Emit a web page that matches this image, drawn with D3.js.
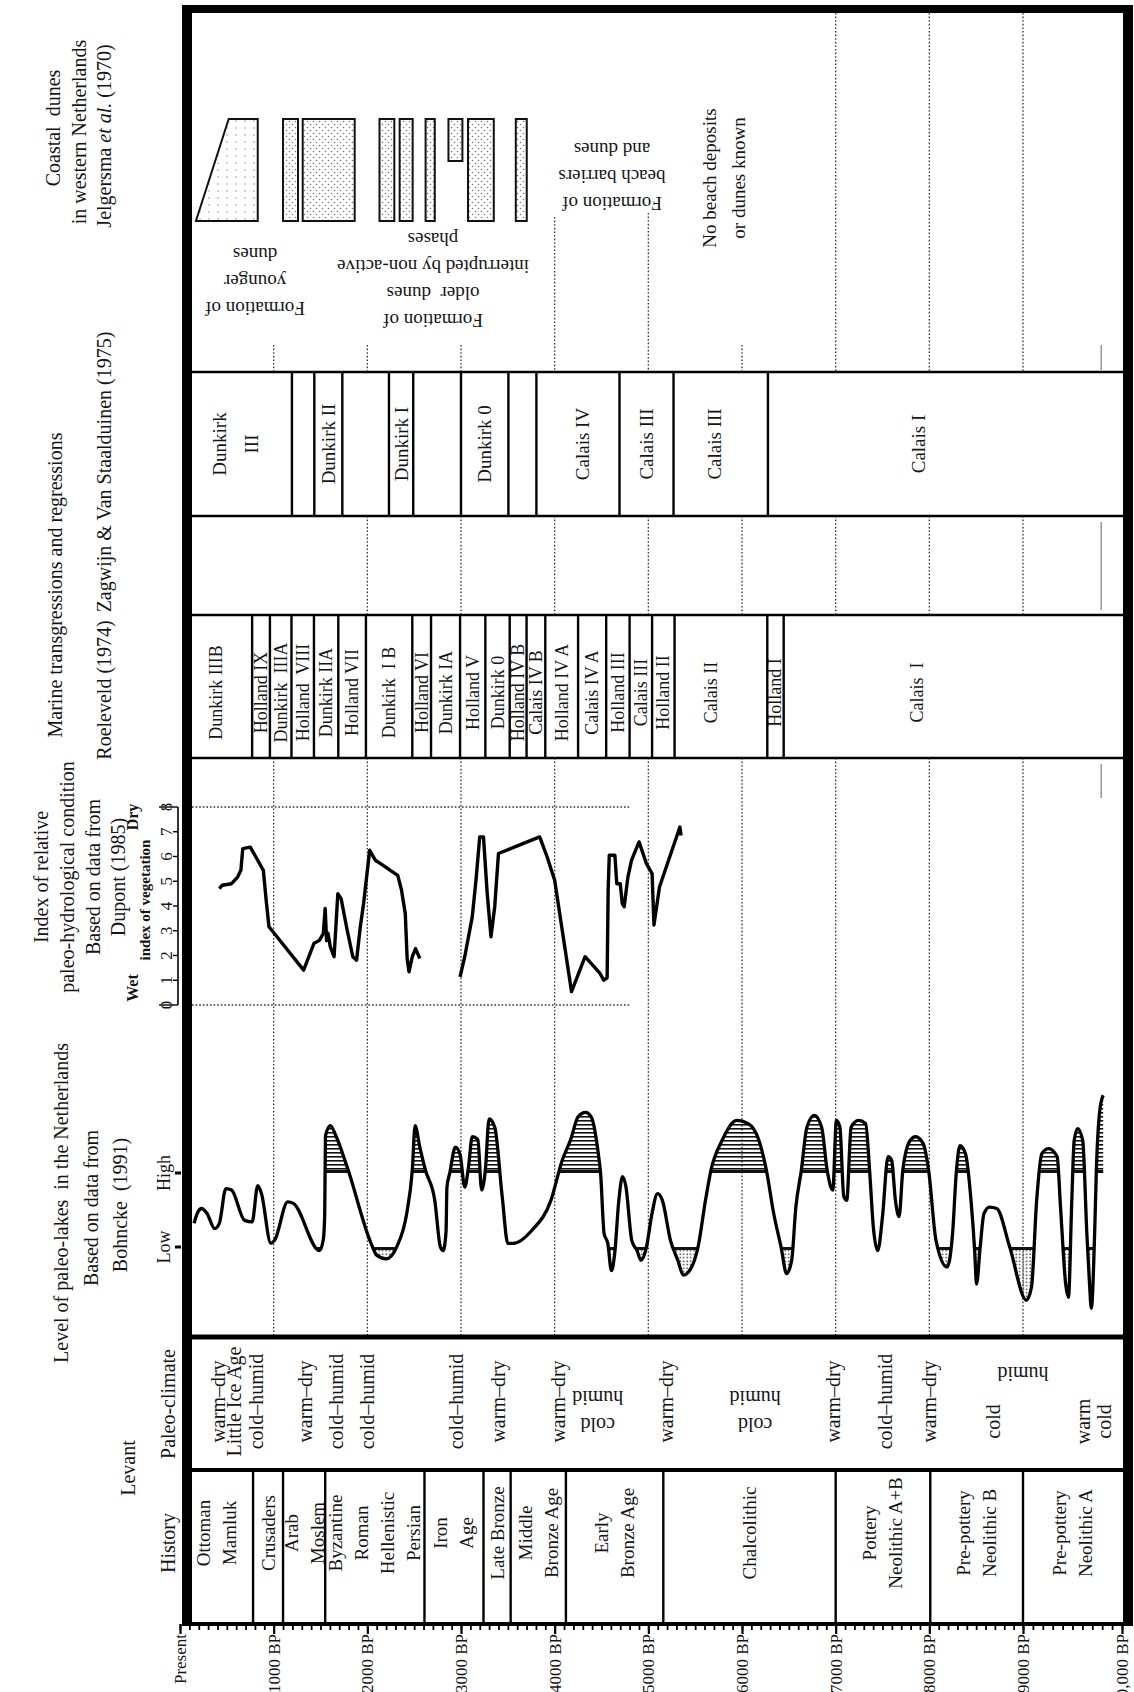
<!DOCTYPE html>
<html>
<head>
<meta charset="utf-8">
<script src="https://cdn.jsdelivr.net/npm/d3@7"></script>
<style>
  body { margin: 0; background: #fff; }
  svg text { font-family: "Liberation Serif", "Times New Roman", serif; fill: #151515; white-space: pre; }
</style>
</head>
<body>
<svg id="chart" width="1134" height="1692"></svg>
<script>
// ---- time axis ----
const axisYears = [0, 1000, 2000, 3000, 4000, 5000, 6000, 7000, 8000, 9000, 10000];
const axisLabels = ['Present', '1000 BP', '2000 BP', '3000 BP', '4000 BP', '5000 BP', '6000 BP', '7000 BP', '8000 BP', '9000 BP', '10,000 BP'];

// ---- history of the Levant ----
const historyBounds = [0, 780, 1100, 1550, 2610, 3240, 3530, 4120, 5160, 7000, 8010, 9000, 10000];
const historyNames = [
  ['Ottoman', 'Mamluk'], ['Crusaders'], ['Arab', 'Moslem'],
  ['Byzantine', 'Roman', 'Hellenistic', 'Persian'], ['Iron', 'Age'], ['Late Bronze'],
  ['Middle', 'Bronze Age'], ['Early', 'Bronze Age'], ['Chalcolithic'],
  ['Pottery', 'Neolithic A+B'], ['Pre-pottery', 'Neolithic B'], ['Pre-pottery', 'Neolithic A']
];

// ---- paleo-climate ----
const climateYears = [404, 580, 816, 1330, 1670, 2000, 2950, 3390, 4040, 5190, 6970, 7530, 8000];
const climateNames = ['warm–dry', 'Little Ice Age', 'cold–humid', 'warm–dry', 'cold–humid', 'cold–humid',
  'cold–humid', 'warm–dry', 'warm–dry', 'warm–dry', 'warm–dry', 'cold–humid', 'warm–dry'];
const climateLowYears = [8680, 9610, 9815];
const climateLowNames = ['cold', 'warm', 'cold'];
const climateFlipYears = [4460, 6140, 9000];
const climateFlipNames = [['cold', 'humid'], ['cold', 'humid'], ['humid']];

// ---- level of paleo-lakes, Bohncke (1991): [years BP, level] 0 = Low, 1 = High ----
const lakeLevel = [
  [150, 0.32], [190, 0.47], [230, 0.52], [290, 0.45], [370, 0.25], [420, 0.32], [490, 0.79], [550, 0.77],
  [690, 0.36], [770, 0.34], [830, 0.83], [870, 0.72], [970, 0.05], [1010, 0.09], [1150, 0.61], [1210, 0.59],
  [1490, -0.05], [1530, 0.1], [1545, 0.45], [1553, 1.5], [1605, 1.64], [1665, 1.5], [1785, 1.08],
  [2040, 0.05], [2100, -0.11], [2200, -0.16], [2320, 0.02], [2420, 0.45], [2480, 1.04], [2510, 1.64],
  [2560, 1.35], [2620, 1.04], [2720, 0.63], [2780, 0], [2810, -0.05], [2840, 0.2], [2850, 0.81], [2880, 1.0],
  [2940, 1.35], [2990, 1.25], [3040, 0.81], [3080, 1.08], [3120, 1.49], [3180, 1.45], [3220, 0.77],
  [3260, 1.04], [3300, 1.73], [3360, 1.62], [3440, 0.68], [3500, 0.05], [3560, 0.05], [3760, 0.23],
  [3960, 0.63], [4080, 1.17], [4170, 1.45], [4250, 1.76], [4330, 1.82], [4390, 1.76], [4470, 1.22],
  [4490, 1.0], [4528, 0.18], [4567, 0.05], [4606, -0.32], [4640, -0.1], [4685, 0.63], [4724, 0.95],
  [4760, 0.82], [4823, 0.09], [4880, -0.05], [4921, -0.18], [4980, 0], [5039, 0.45], [5098, 0.72],
  [5150, 0.63], [5236, 0.09], [5315, -0.18], [5374, -0.38], [5450, -0.3], [5531, 0], [5610, 0.63],
  [5669, 1.04], [5787, 1.44], [5945, 1.71], [6063, 1.67], [6181, 1.44], [6260, 1.04], [6339, 0.45],
  [6417, 0], [6476, -0.36], [6530, -0.18], [6575, 0.54], [6634, 1.04], [6693, 1.62], [6772, 1.78],
  [6850, 1.62], [6909, 1.04], [6969, 0.77], [7008, 1.71], [7045, 1.62], [7087, 0.68], [7118, 0.63],
  [7165, 1.62], [7244, 1.71], [7320, 1.67], [7362, 1.04], [7402, 0.27], [7449, -0.05], [7500, 0.41],
  [7559, 1.22], [7598, 1.17], [7638, 0.63], [7677, 0.41], [7717, 1.04], [7795, 1.44], [7854, 1.49],
  [7933, 1.4], [7992, 1.04], [8071, 0.09], [8189, -0.27], [8248, 0.18], [8287, 0.99], [8327, 1.37],
  [8386, 1.26], [8445, 0.63], [8484, -0.05], [8504, -0.5], [8543, 0], [8583, 0.45], [8642, 0.54],
  [8720, 0.52], [8858, 0], [9034, -0.72], [9086, -0.54], [9138, 0.63], [9190, 1.26], [9259, 1.33],
  [9345, 1.22], [9379, 0.54], [9431, -0.5], [9459, -0.68], [9493, 0.63], [9517, 1.44], [9552, 1.6],
  [9603, 1.44], [9645, 0.18], [9672, -0.5], [9690, -0.83], [9724, 0.2], [9741, 1.04], [9776, 1.85],
  [9810, 2.05]
];

// ---- index of vegetation, Dupont (1985): [years BP, index 0 wet .. 8 dry] ----
const dupontRecent = [
  [420, 4.7], [450, 4.84], [550, 4.9], [615, 5.17], [650, 5.44], [670, 6.32], [750, 6.38], [810, 5.98],
  [890, 5.44], [920, 4.23], [950, 3.16], [1320, 1.41], [1430, 2.49], [1490, 2.62], [1530, 2.89],
  [1550, 3.9], [1565, 2.6], [1580, 2.9], [1605, 2.35], [1645, 1.95], [1685, 4.5], [1720, 4.3],
  [1785, 3.02], [1845, 1.95], [1885, 1.81], [1925, 3.16], [1960, 4.1], [2025, 6.25], [2085, 5.85],
  [2165, 5.65], [2245, 5.44], [2325, 5.24], [2365, 4.64], [2405, 3.7], [2425, 1.88], [2445, 1.34],
  [2480, 1.95], [2515, 2.28], [2560, 1.88]
];
const dupontOlder = [
  [2990, 1.14], [3040, 1.95], [3120, 3.56], [3160, 5.04], [3200, 6.79], [3240, 6.79], [3280, 4.5],
  [3320, 2.76], [3360, 3.97], [3400, 6.12], [3840, 6.79], [3920, 5.98], [4000, 5.04], [4180, 0.54],
  [4325, 1.95], [4484, 1.28], [4524, 1.0], [4560, 1.1], [4571, 4.64], [4583, 6.05], [4643, 6.05],
  [4663, 4.9], [4700, 4.9], [4722, 4.1], [4742, 3.97], [4782, 5.17], [4821, 5.85], [4901, 6.59],
  [4980, 5.71], [5040, 5.31], [5060, 3.23], [5119, 4.77], [5337, 7.19], [5349, 6.85]
];
const dupontTicks = [0, 1, 2, 3, 4, 5, 6, 7, 8];

// ---- marine transgressions, Roeleveld (1974) ----
const roeleveldBounds = [0, 770, 960, 1190, 1430, 1690, 1985, 2480, 2680, 2990, 3260, 3520, 3700, 3900,
  4250, 4550, 4800, 5040, 5280, 6270, 6445, 10000];
const roeleveldNames = ['Dunkirk IIIB', 'Holland IX', 'Dunkirk  IIIA', 'Holland  VIII', 'Dunkirk IIA',
  'Holland VII', 'Dunkirk  I B', 'Holland VI', 'Dunkirk IA', 'Holland V', 'Dunkirk 0', 'Holland IV B',
  'Calais IV B', 'Holland IV A', 'Calais IV A', 'Holland III', 'Calais III', 'Holland II', 'Calais II',
  'Holland I', 'Calais  I'];
const roeleveldLabelYears = { 'Calais II': 5669, 'Calais  I': 7870 };

// ---- Zagwijn & Van Staalduinen (1975) ----
const zagwijnBounds = [0, 1195, 1434, 1733, 2231, 2490, 3000, 3506, 3805, 4692, 5269, 6277, 10000];
const zagwijnNames = [['Dunkirk', 'III'], [], ['Dunkirk II'], [], ['Dunkirk I'], [], ['Dunkirk 0'], [],
  ['Calais IV'], ['Calais III'], ['Calais III'], ['Calais I']];
const zagwijnLabelYears = [null, null, null, null, null, null, null, null, 4300, null, 5711, 7880];

// ---- coastal dunes, Jelgersma et al. (1970) ----
const youngerDunes = [170, 520, 830];
const olderDuneBeds = [[1100, 1260], [1310, 1865], [2130, 2288], [2345, 2484], [2622, 2720], [3075, 3350], [3585, 3702]];
const shortDuneBed = [2866, 3015];

const gridYears = [1000, 2000, 3000, 4000, 5000, 6000, 7000, 8000, 9000];

// ---------------------------------------------------------------
const svg = d3.select('#chart');
const L = {
  top: 5, duneBot: 345, staalTop: 372, staalBot: 516, roelTop: 615, roelBot: 758,
  lakeBot: 1337, paleoBot: 1470, axisY: 1624, left: 192, right: 1123
};
const x = d3.scaleLinear().domain([0, 9000, 10000]).range([180, 1023, 1122]);
const yLake = d3.scaleLinear().domain([0, 1]).range([1247, 1173]);
const yDry = d3.scaleLinear().domain([0, 8]).range([1005, 807]);

const defs = svg.append('defs');
const hatch = defs.append('pattern').attr('id', 'hatch').attr('patternUnits', 'userSpaceOnUse')
  .attr('width', 8).attr('height', 4);
hatch.append('rect').attr('width', 8).attr('height', 1.6).attr('fill', '#111');
const dots = defs.append('pattern').attr('id', 'dots').attr('patternUnits', 'userSpaceOnUse')
  .attr('width', 3.5).attr('height', 3.5);
dots.append('circle').attr('cx', 1.2).attr('cy', 1.2).attr('r', 0.85).attr('fill', '#222');
const sand = defs.append('pattern').attr('id', 'sand').attr('patternUnits', 'userSpaceOnUse')
  .attr('width', 6).attr('height', 6);
sand.append('circle').attr('cx', 1.5).attr('cy', 1.5).attr('r', 0.8).attr('fill', '#777');
sand.append('circle').attr('cx', 4.5).attr('cy', 4.5).attr('r', 0.8).attr('fill', '#777');
const sandLight = defs.append('pattern').attr('id', 'sandLight').attr('patternUnits', 'userSpaceOnUse')
  .attr('width', 9).attr('height', 7);
sandLight.append('circle').attr('cx', 2).attr('cy', 2).attr('r', 0.8).attr('fill', '#999');

function clip(id, y0, y1) {
  defs.append('clipPath').attr('id', id).append('rect')
    .attr('x', 0).attr('y', y0).attr('width', 1134).attr('height', y1 - y0);
}
clip('clipHigh', 0, yLake(1));
clip('clipLow', yLake(0), 1692);
clip('bandHigh', yLake(1) - 3, yLake(1));
clip('bandLow', yLake(0), yLake(0) + 3);

// rotated (reading bottom to top) text, lines stacked to the right
function vText(g, cx, cy, lines, size, lh, weight) {
  const n = lines.length;
  lines.forEach((s, i) => {
    g.append('text')
      .attr('transform', `translate(${cx + (i - (n - 1) / 2) * lh},${cy}) rotate(-90)`)
      .attr('text-anchor', 'middle').attr('dominant-baseline', 'central')
      .style('font-size', size + 'px').style('font-weight', weight || null)
      .text(s);
  });
}
// upside-down text, first line lowest
function flipText(g, cx, cy, lines, size, lh) {
  const n = lines.length;
  lines.forEach((s, i) => {
    g.append('text')
      .attr('transform', `translate(${cx},${cy + ((n - 1) / 2 - i) * lh}) rotate(180)`)
      .attr('text-anchor', 'middle').attr('dominant-baseline', 'central')
      .style('font-size', size + 'px').text(s);
  });
}

// ---- dotted time grid ----
const grid = svg.append('g').attr('stroke', '#333').attr('stroke-width', 1.3).attr('stroke-dasharray', '1.6,2');
grid.selectAll('line.g1').data(gridYears).join('line').attr('class', 'g1')
  .attr('x1', d => x(d)).attr('x2', d => x(d)).attr('y1', L.roelBot).attr('y2', L.lakeBot);
grid.selectAll('line.g2').data(gridYears.filter(d => d >= 2000)).join('line').attr('class', 'g2')
  .attr('x1', d => x(d)).attr('x2', d => x(d)).attr('y1', L.staalBot).attr('y2', L.roelTop);
const duneGridStart = d => d >= 7000 ? L.top + 8 : d === 4000 ? 217 : d === 5000 ? 213 : L.duneBot;
grid.selectAll('line.g3').data(gridYears).join('line').attr('class', 'g3')
  .attr('x1', d => x(d)).attr('x2', d => x(d)).attr('y1', duneGridStart).attr('y2', L.staalTop);
grid.selectAll('line.g4').data([0, 8]).join('line').attr('class', 'g4')
  .attr('x1', L.left).attr('x2', x(4800)).attr('y1', d => yDry(d)).attr('y2', d => yDry(d));

// stray grey marks near 9800 BP
svg.append('g').attr('stroke', '#999').attr('stroke-width', 1.5)
  .selectAll('line').data([[345, 370], [522, 610], [764, 798]]).join('line')
  .attr('x1', x(9790)).attr('x2', x(9790)).attr('y1', d => d[0]).attr('y2', d => d[1]);

// ---- lake levels ----
const lake = svg.append('g');
const lakeLine = d3.line().x(d => x(d[0])).y(d => yLake(d[1])).curve(d3.curveMonotoneX);
const highArea = d3.area().x(d => x(d[0])).y0(yLake(1)).y1(d => yLake(d[1])).curve(d3.curveMonotoneX);
const lowArea = d3.area().x(d => x(d[0])).y0(yLake(0)).y1(d => yLake(d[1])).curve(d3.curveMonotoneX);
lake.append('path').datum(lakeLevel).attr('d', highArea).attr('fill', 'url(#hatch)').attr('clip-path', 'url(#clipHigh)');
lake.append('path').datum(lakeLevel).attr('d', highArea).attr('fill', '#111').attr('clip-path', 'url(#bandHigh)');
lake.append('path').datum(lakeLevel).attr('d', lowArea).attr('fill', 'url(#dots)').attr('clip-path', 'url(#clipLow)');
lake.append('path').datum(lakeLevel).attr('d', lowArea).attr('fill', '#111').attr('clip-path', 'url(#bandLow)');
lake.append('path').datum(lakeLevel).attr('d', lakeLine).attr('fill', 'none')
  .attr('stroke', '#000').attr('stroke-width', 3.3).attr('stroke-linejoin', 'round');

// ---- Dupont index ----
const dryLine = d3.line().x(d => x(d[0])).y(d => yDry(d[1]));
svg.append('g').selectAll('path').data([dupontRecent, dupontOlder]).join('path')
  .attr('d', dryLine).attr('fill', 'none').attr('stroke', '#000').attr('stroke-width', 3.4)
  .attr('stroke-linejoin', 'round');

// index scale
const dryAxis = svg.append('g');
dryAxis.append('line').attr('x1', 178).attr('x2', 178).attr('y1', yDry(0)).attr('y2', yDry(8))
  .attr('stroke', '#000').attr('stroke-width', 1.6);
dryAxis.selectAll('line.t').data(dupontTicks).join('line').attr('class', 't')
  .attr('x1', d => (d === 0 || d === 8) ? 159 : 173).attr('x2', 178)
  .attr('y1', d => yDry(d)).attr('y2', d => yDry(d)).attr('stroke', '#000').attr('stroke-width', 1.4);
dryAxis.selectAll('text').data(dupontTicks).join('text')
  .attr('transform', d => `translate(166,${yDry(d)}) rotate(-90)`)
  .attr('text-anchor', 'middle').attr('dominant-baseline', 'central').style('font-size', '17px')
  .text(d => d);

// ---- boxes ----
function boxColumn(bounds, names, labelAt, y0, y1, ty, size, lh) {
  const g = svg.append('g');
  g.selectAll('line').data(bounds.slice(1, -1)).join('line')
    .attr('x1', d => x(d)).attr('x2', d => x(d)).attr('y1', y0).attr('y2', y1)
    .attr('stroke', '#000').attr('stroke-width', 2.4);
  names.forEach((lines, i) => {
    const arr = Array.isArray(lines) ? lines : [lines];
    const at = labelAt(lines, i);
    const year = at != null ? at : (bounds[i] + bounds[i + 1]) / 2;
    if (arr.length) vText(g, x(year), ty, arr, size, lh);
  });
}
boxColumn(roeleveldBounds, roeleveldNames, s => roeleveldLabelYears[s],
  L.roelTop, L.roelBot, (L.roelTop + L.roelBot) / 2 + 6, 18, 20);
boxColumn(zagwijnBounds, zagwijnNames, (s, i) => zagwijnLabelYears[i],
  L.staalTop, L.staalBot, (L.staalTop + L.staalBot) / 2, 19, 32);
boxColumn(historyBounds, historyNames, () => null, L.paleoBot, L.axisY, 1533, 19, 26);

// ---- paleo-climate ----
const clim = svg.append('g');
const paleoMid = (L.lakeBot + L.paleoBot) / 2 - 2;
climateYears.forEach((d, i) => vText(clim, x(d), paleoMid, [climateNames[i]], 20, 0));
climateLowYears.forEach((d, i) => vText(clim, x(d), paleoMid + 20, [climateLowNames[i]], 20, 0));
climateFlipYears.forEach((d, i) => {
  const lines = climateFlipNames[i];
  flipText(clim, x(d), lines.length > 1 ? paleoMid + 10 : paleoMid - 28, lines, 20, 27);
});

// ---- coastal dunes ----
const dunes = svg.append('g');
const dTop = 119, dBot = 221;
dunes.append('path')
  .attr('d', `M${x(youngerDunes[0])},${dBot} L${x(youngerDunes[1])},${dTop} L${x(youngerDunes[2])},${dTop} L${x(youngerDunes[2])},${dBot} Z`)
  .attr('fill', 'url(#sandLight)').attr('stroke', '#111').attr('stroke-width', 2);
dunes.selectAll('rect.bed').data(olderDuneBeds).join('rect').attr('class', 'bed')
  .attr('x', d => x(d[0])).attr('width', d => x(d[1]) - x(d[0]))
  .attr('y', dTop).attr('height', dBot - dTop)
  .attr('fill', 'url(#sand)').attr('stroke', '#111').attr('stroke-width', 2);
dunes.append('rect').attr('x', x(shortDuneBed[0])).attr('width', x(shortDuneBed[1]) - x(shortDuneBed[0]))
  .attr('y', dTop).attr('height', 42).attr('fill', 'url(#sand)').attr('stroke', '#111').attr('stroke-width', 2);
flipText(dunes, 255, 281, ['Formation of', 'younger', 'dunes'], 19, 27);
flipText(dunes, 433, 280, ['Formation of', 'older  dunes', 'interrupted by non-active', 'phases'], 19, 27);
flipText(dunes, 612, 176, ['Formation of', 'beach barriers', 'and dunes'], 19, 27);
vText(dunes, x(5810), 178, ['No beach deposits', 'or dunes known'], 19, 29);

// ---- column rules and frame ----
const rules = svg.append('g').attr('stroke', '#000');
[[L.staalTop, 2.6], [L.staalBot, 2.6], [L.roelTop, 2.6], [L.roelBot, 2.6], [L.lakeBot, 5], [L.paleoBot, 4]]
  .forEach(([y, w]) => rules.append('line').attr('x1', L.left).attr('x2', L.right).attr('y1', y).attr('y2', y).attr('stroke-width', w));
svg.append('rect').attr('x', 182).attr('y', L.top).attr('width', 10).attr('height', L.axisY - L.top).attr('fill', '#000');
svg.append('rect').attr('x', 1123).attr('y', L.top).attr('width', 10).attr('height', L.axisY - L.top).attr('fill', '#000');
svg.append('rect').attr('x', 182).attr('y', L.top).attr('width', 951).attr('height', 8).attr('fill', '#000');
svg.append('rect').attr('x', 182).attr('y', L.axisY - 2).attr('width', 951).attr('height', 4).attr('fill', '#000');

// ---- time axis ----
const minor = svg.append('g').attr('transform', `translate(0,${L.axisY})`)
  .call(d3.axisBottom(x).tickValues(d3.range(0, 10001, 100)).tickSize(6).tickFormat(''));
minor.select('.domain').remove();
minor.selectAll('line').attr('stroke', '#000').attr('stroke-width', 1.8);
const major = svg.append('g').attr('transform', `translate(0,${L.axisY})`)
  .call(d3.axisBottom(x).tickValues(axisYears).tickSize(10).tickFormat((d, i) => axisLabels[i]));
major.select('.domain').remove();
major.selectAll('line').attr('stroke', '#000').attr('stroke-width', 2.2);
major.selectAll('text').attr('transform', 'rotate(-90)').attr('x', -10).attr('y', 0).attr('dy', '0.33em')
  .attr('text-anchor', 'end').attr('font-family', null).attr('font-size', null)
  .style('font-size', '17px').style('fill', '#151515');

// ---- headers ----
const hdr = svg.append('g');
vText(hdr, 53, 128, ['Coastal  dunes'], 20, 0);
vText(hdr, 79, 132, ['in western Netherlands'], 20, 0);
const jel = hdr.append('text').attr('transform', 'translate(104,136) rotate(-90)')
  .attr('text-anchor', 'middle').attr('dominant-baseline', 'central').style('font-size', '20px');
jel.append('tspan').text('Jelgersma ');
jel.append('tspan').style('font-style', 'italic').text('et al.');
jel.append('tspan').text(' (1970)');
vText(hdr, 55, 585, ['Marine transgressions and regressions'], 20, 0);
vText(hdr, 104, 472, ['Zagwijn & Van Staalduinen (1975)'], 20, 0);
vText(hdr, 104, 690, ['Roeleveld (1974)'], 20, 0);
vText(hdr, 41, 877, ['Index of relative'], 20, 0);
vText(hdr, 67, 877, ['paleo-hydrological condition'], 20, 0);
vText(hdr, 93, 877, ['Based on data from'], 20, 0);
vText(hdr, 118, 877, ['Dupont (1985)'], 20, 0);
vText(hdr, 132, 988, ['Wet'], 16, 0, 'bold');
vText(hdr, 132, 817, ['Dry'], 16, 0, 'bold');
vText(hdr, 145, 900, ['index of vegetation'], 15, 0, 'bold');
vText(hdr, 61, 1203, ['Level of paleo-lakes  in the Netherlands'], 20, 0);
vText(hdr, 91, 1208, ['Based on data from'], 20, 0);
vText(hdr, 120, 1205, ['Bohncke  (1991)'], 20, 0);
vText(hdr, 164, yLake(0), ['Low'], 18, 0);
vText(hdr, 164, yLake(1), ['High'], 18, 0);
hdr.selectAll('line').data([0, 1]).join('line')
  .attr('x1', 175).attr('x2', 181).attr('y1', d => yLake(d)).attr('y2', d => yLake(d))
  .attr('stroke', '#000').attr('stroke-width', 3);
vText(hdr, 128, 1468, ['Levant'], 20, 0);
vText(hdr, 168, 1404, ['Paleo-climate'], 20, 0);
vText(hdr, 168, 1543, ['History'], 20, 0);
</script>
</body>
</html>
